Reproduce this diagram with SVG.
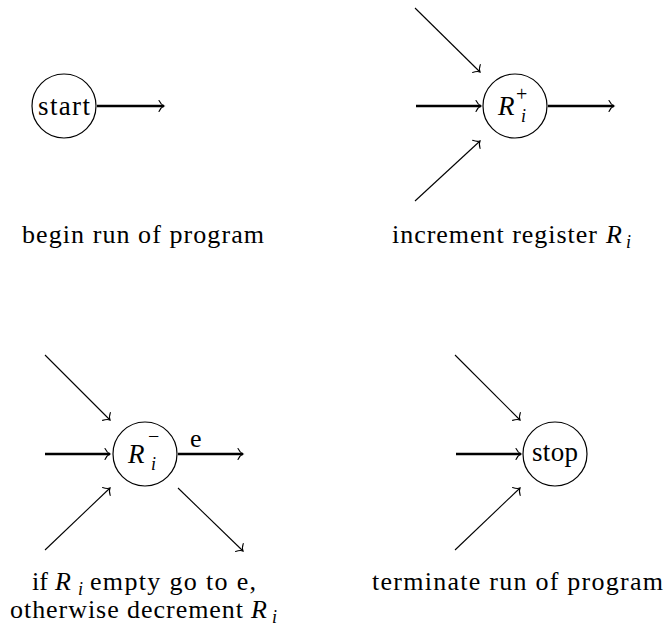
<svg xmlns="http://www.w3.org/2000/svg" width="668" height="635" viewBox="0 0 668 635">
  <defs>
    <!-- open curved "to" arrowhead -->
    <marker id="to" markerUnits="userSpaceOnUse" viewBox="-8 -7 10 14" markerWidth="10" markerHeight="14" refX="0" refY="0" orient="auto" overflow="visible">
      <path d="M -5 -5.5 C -3.5 -2.5 -1.5 -0.6 0 0 C -1.5 0.6 -3.5 2.5 -5 5.5" fill="none" stroke="#000" stroke-width="1.1" stroke-linecap="round"/>
    </marker>
  </defs>

  <g id="connectors" stroke="#000" fill="none" marker-end="url(#to)">
    <!-- thin diagonal feeders -->
    <g stroke-width="1.1">
      <line x1="415" y1="8" x2="480" y2="72"/>
      <line x1="415" y1="201" x2="480" y2="141"/>
      <line x1="45" y1="355" x2="110" y2="420"/>
      <line x1="45" y1="550" x2="110" y2="488"/>
      <line x1="178" y1="488" x2="243" y2="551"/>
      <line x1="455" y1="355" x2="520" y2="420"/>
      <line x1="455" y1="550" x2="520" y2="488"/>
    </g>
    <!-- thick horizontal flow -->
    <g stroke-width="2.6">
      <line x1="97" y1="106" x2="164" y2="106"/>
      <line x1="416" y1="106" x2="481" y2="106"/>
      <line x1="548" y1="106" x2="614" y2="106"/>
      <line x1="45" y1="454" x2="110" y2="454"/>
      <line x1="178" y1="454" x2="243" y2="454"/>
      <line x1="456" y1="454" x2="521" y2="454"/>
    </g>
  </g>
  <text x="190" y="447" font-family="Times New Roman, serif" font-size="26">e</text>

  <g id="node-start">
    <circle cx="64" cy="106" r="32" fill="#fff" stroke="#000" stroke-width="1.2"/>
    <text x="38" y="115" font-family="Times New Roman, serif" font-size="27" textLength="52" lengthAdjust="spacing">start</text>
  </g>

  <g id="node-increment">
    <circle cx="515" cy="106" r="32" fill="#fff" stroke="#000" stroke-width="1.2"/>
    <text x="498" y="115" font-family="Times New Roman, serif" font-style="italic" font-size="27">R</text>
    <text x="521" y="122" font-family="Times New Roman, serif" font-style="italic" font-size="18">i</text>
    <text x="516" y="101" font-family="Times New Roman, serif" font-size="20">+</text>
  </g>

  <g id="node-decrement">
    <circle cx="145" cy="454" r="32" fill="#fff" stroke="#000" stroke-width="1.2"/>
    <text x="128" y="463" font-family="Times New Roman, serif" font-style="italic" font-size="27">R</text>
    <text x="151" y="470" font-family="Times New Roman, serif" font-style="italic" font-size="18">i</text>
    <text x="148" y="443" font-family="Times New Roman, serif" font-size="20">−</text>
  </g>

  <g id="node-stop">
    <circle cx="555" cy="454" r="32" fill="#fff" stroke="#000" stroke-width="1.2"/>
    <text x="532" y="461" font-family="Times New Roman, serif" font-size="27" textLength="46" lengthAdjust="spacing">stop</text>
  </g>

  <g id="captions">
    <text x="22" y="243" font-family="Times New Roman, serif" font-size="26" textLength="242" lengthAdjust="spacing">begin run of program</text>

    <text x="392" y="243" font-family="Times New Roman, serif" font-size="26" textLength="205" lengthAdjust="spacing">increment register</text>
    <text x="606" y="243" font-family="Times New Roman, serif" font-style="italic" font-size="26">R</text>
    <text x="626" y="248" font-family="Times New Roman, serif" font-style="italic" font-size="18">i</text>

    <text x="32" y="590" font-family="Times New Roman, serif" font-size="26">if</text>
    <text x="55" y="590" font-family="Times New Roman, serif" font-style="italic" font-size="26">R</text>
    <text x="78" y="595" font-family="Times New Roman, serif" font-style="italic" font-size="18">i</text>
    <text x="90" y="590" font-family="Times New Roman, serif" font-size="26" textLength="166" lengthAdjust="spacing">empty go to e,</text>

    <text x="10" y="618" font-family="Times New Roman, serif" font-size="26" textLength="233" lengthAdjust="spacing">otherwise decrement</text>
    <text x="251" y="618" font-family="Times New Roman, serif" font-style="italic" font-size="26">R</text>
    <text x="272" y="623" font-family="Times New Roman, serif" font-style="italic" font-size="18">i</text>

    <text x="372" y="590" font-family="Times New Roman, serif" font-size="26" textLength="291" lengthAdjust="spacing">terminate run of program</text>
  </g>
</svg>
